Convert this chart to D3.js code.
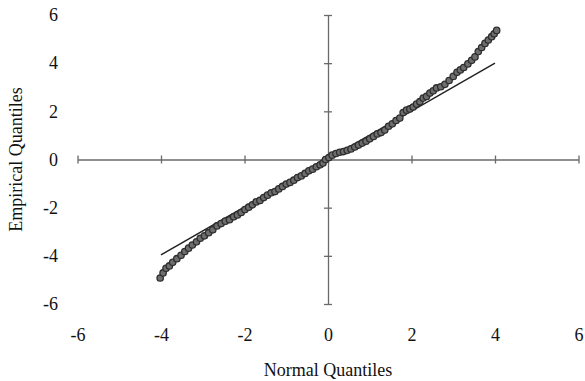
<!DOCTYPE html>
<html>
<head>
<meta charset="utf-8">
<script src="https://cdn.jsdelivr.net/npm/d3@7"></script>
<style>
  body { margin: 0; background: #fff; }
  text { font-family: "Liberation Serif", "DejaVu Serif", serif; fill: #111; }
</style>
</head>
<body>
<svg id="vis"></svg>
<script>
const WIDTH = 585;
const HEIGHT = 381;

// tick values shared by both axes
const ticks = [-6, -4, -2, 0, 2, 4, 6];

// normal quantiles (x) and empirical quantiles (y)
const normalQ = [
  -4.02, -3.95, -3.88, -3.80, -3.72, -3.62, -3.52, -3.43, -3.34, -3.25,
  -3.15, -3.06, -2.96, -2.86, -2.76, -2.66, -2.56, -2.46, -2.36, -2.26,
  -2.17, -2.08, -1.99, -1.90, -1.81, -1.72, -1.63, -1.54, -1.45, -1.36,
  -1.27, -1.18, -1.09, -1.00, -0.91, -0.82, -0.73, -0.64, -0.55, -0.46,
  -0.37, -0.28, -0.19, -0.12, -0.06, 0.02, 0.10, 0.19, 0.28, 0.37,
  0.46, 0.55, 0.64, 0.73, 0.82, 0.91, 1.00, 1.09, 1.18, 1.27,
  1.36, 1.45, 1.54, 1.63, 1.72, 1.80, 1.88, 1.96, 2.04, 2.12,
  2.20, 2.28, 2.36, 2.44, 2.52, 2.60, 2.70, 2.80, 2.90, 3.00,
  3.09, 3.17, 3.25, 3.35, 3.44, 3.52, 3.60, 3.68, 3.76, 3.84,
  3.92, 3.98, 4.04
];
const empiricalQ = [
  -4.92, -4.71, -4.52, -4.42, -4.27, -4.12, -3.98, -3.82, -3.68, -3.55,
  -3.42, -3.27, -3.17, -3.04, -2.92, -2.76, -2.66, -2.56, -2.50, -2.38,
  -2.30, -2.20, -2.08, -1.98, -1.88, -1.76, -1.70, -1.58, -1.48, -1.38,
  -1.33, -1.22, -1.12, -1.02, -0.95, -0.86, -0.75, -0.68, -0.58, -0.47,
  -0.40, -0.30, -0.22, -0.15, 0.00, 0.08, 0.18, 0.25, 0.30, 0.33,
  0.38, 0.44, 0.52, 0.60, 0.68, 0.76, 0.86, 0.96, 1.06, 1.12,
  1.22, 1.38, 1.48, 1.62, 1.72, 1.95, 2.05, 2.10, 2.18, 2.30,
  2.40, 2.55, 2.62, 2.76, 2.85, 2.97, 3.02, 3.12, 3.28, 3.45,
  3.62, 3.72, 3.82, 3.97, 4.12, 4.26, 4.48, 4.65, 4.82, 4.96,
  5.10, 5.22, 5.36
];

// reference line end points
const refX = [-4, 4];
const refY = [-3.96, 4.0];

const SVG = d3.select("#vis").attr("width", WIDTH).attr("height", HEIGHT);

const x = d3.scaleLinear().domain([-6, 6]).range([77.5, 578.5]);
const y = d3.scaleLinear().domain([-6, 6]).range([304, 15]);

const AXIS_COLOR = "#6a6a6a";
const FONT_SIZE = 18;
const plain = (d) => String(d); // hyphen minus, as in the picture

// axis lines through the origin, ticks cross the line
const xAxis = SVG.append("g")
  .attr("transform", `translate(0, ${y(0)})`)
  .call(d3.axisBottom(x).tickValues(ticks).tickFormat("").tickSizeOuter(0));
xAxis.selectAll(".tick line").attr("y1", -4).attr("y2", 4);

const yAxis = SVG.append("g")
  .attr("transform", `translate(${x(0)}, 0)`)
  .call(d3.axisLeft(y).tickValues(ticks).tickFormat("").tickSizeOuter(0));
yAxis.selectAll(".tick line").attr("x1", -4).attr("x2", 4);

SVG.selectAll(".domain, .tick line")
  .attr("stroke", AXIS_COLOR)
  .attr("stroke-width", 1.3);

// tick labels along the outside edges
const xLabels = SVG.append("g")
  .attr("transform", `translate(0, 335)`)
  .call(d3.axisBottom(x).tickValues(ticks).tickFormat(plain).tickSize(0).tickPadding(0));
xLabels.select(".domain").remove();
xLabels.selectAll("text").attr("dy", "0.35em");

const yLabels = SVG.append("g")
  .attr("transform", `translate(58, 0)`)
  .call(d3.axisLeft(y).tickValues(ticks).tickFormat(plain).tickSize(0).tickPadding(0));
yLabels.select(".domain").remove();

SVG.selectAll("g text")
  .attr("font-family", "Liberation Serif")
  .attr("font-size", FONT_SIZE)
  .attr("fill", "#111");

// reference line
SVG.append("line")
  .attr("x1", x(refX[0])).attr("y1", y(refY[0]))
  .attr("x2", x(refX[1])).attr("y2", y(refY[1]))
  .attr("stroke", "#222")
  .attr("stroke-width", 1.5);

// points
SVG.append("g").selectAll("circle")
  .data(normalQ)
  .enter()
  .append("circle")
  .attr("cx", (d) => x(d))
  .attr("cy", (d, i) => y(empiricalQ[i]))
  .attr("r", 3.2)
  .attr("fill", "#6e6e6e")
  .attr("stroke", "#2e2e2e")
  .attr("stroke-width", 1.3);

// axis titles
SVG.append("text")
  .attr("x", x(0))
  .attr("y", 376)
  .attr("text-anchor", "middle")
  .attr("font-size", FONT_SIZE)
  .text("Normal Quantiles");

SVG.append("text")
  .attr("transform", `translate(22, ${y(0)}) rotate(-90)`)
  .attr("text-anchor", "middle")
  .attr("font-size", FONT_SIZE)
  .text("Empirical Quantiles");
</script>
</body>
</html>
